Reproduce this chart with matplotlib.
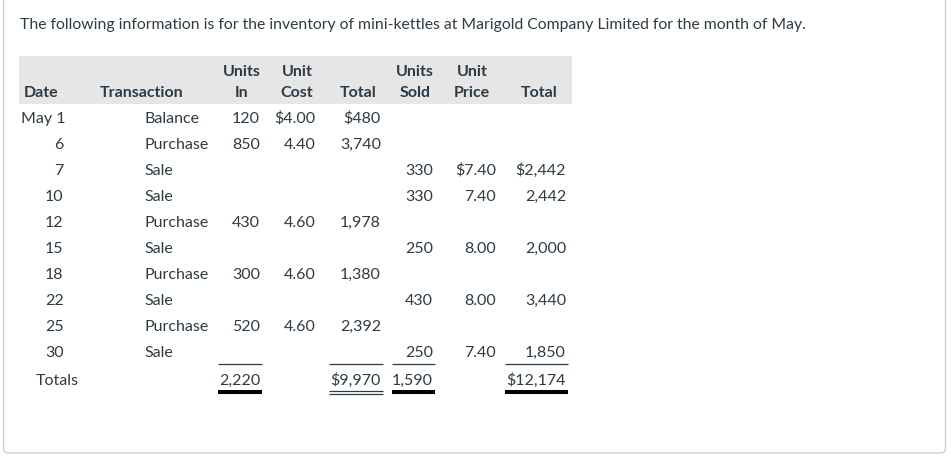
import matplotlib
matplotlib.use("Agg")
import matplotlib.pyplot as plt
from matplotlib.patches import Rectangle, FancyBboxPatch

# data for the table
title = ("The following information is for the inventory of mini-kettles "
         "at Marigold Company Limited for the month of May.")
dates = ['May 1', '6', '7', '10', '12', '15', '18', '22', '25', '30']
transactions = ['Balance', 'Purchase', 'Sale', 'Sale', 'Purchase',
                'Sale', 'Purchase', 'Sale', 'Purchase', 'Sale']
units_in = [120, 850, None, None, 430, None, 300, None, 520, None]
unit_cost = [4.00, 4.40, None, None, 4.60, None, 4.60, None, 4.60, None]
cost_total = [480, 3740, None, None, 1978, None, 1380, None, 2392, None]
units_sold = [None, None, 330, 330, None, 250, None, 430, None, 250]
unit_price = [None, None, 7.40, 7.40, None, 8.00, None, 8.00, None, 7.40]
sales_total = [None, None, 2442, 2442, None, 2000, None, 3440, None, 1850]
totals = {'units_in': 2220, 'cost_total': 9970,
          'units_sold': 1590, 'sales_total': 12174}

W, H = 951, 457
fig = plt.figure(figsize=(W / 100, H / 100), dpi=100)
ax = fig.add_axes([0, 0, 1, 1])
ax.set_xlim(0, W)
ax.set_ylim(H, 0)
ax.axis('off')

txt = '#2d3b45'
fs = 11.5
font = 'Lato'

# outer box (top edge runs off the picture)
ax.add_patch(FancyBboxPatch((3.5, -20), 942, 473, boxstyle='round,pad=0,rounding_size=5',
                            fc='white', ec='#cfcfcf', lw=1))

ax.text(20, 29.5, title, fontsize=11.3, family=font, color=txt, va='baseline')

# header band
ax.add_patch(Rectangle((19, 56), 553, 48, fc='#e6e6e6', ec='none'))
hdr = dict(fontsize=fs, family=font, color=txt, fontweight='bold', va='baseline')
ax.text(24, 97, 'Date', **hdr)
ax.text(142, 97, 'Transaction', ha='center', **hdr)
for cx, l1, l2 in [(241.5, 'Units', 'In'), (297, 'Unit', 'Cost'), (358, '', 'Total'),
                   (415, 'Units', 'Sold'), (472, 'Unit', 'Price'), (539, '', 'Total')]:
    if l1:
        ax.text(cx, 75.5, l1, ha='center', **hdr)
    ax.text(cx, 97, l2, ha='center', **hdr)


def money(v, dollar, dec):
    s = f'{v:,.2f}' if dec else f'{v:,.0f}'
    return ('$' + s) if dollar else s


body = dict(fontsize=fs, family=font, color=txt, va='baseline')
cols = [(units_in, 260, False), (unit_cost, 315.5, True), (cost_total, 381, False),
        (units_sold, 433, False), (unit_price, 496, True), (sales_total, 566, False)]
money_cols = [1, 2, 4, 5]
for i in range(len(dates)):
    y = 123 + 26 * i
    if i == 0:
        ax.text(21, y, dates[i], **body)
    else:
        ax.text(63.5, y, dates[i], ha='right', **body)
    ax.text(144, y, transactions[i], **body)
    for k, (vals, xr, dec) in enumerate(cols):
        v = vals[i]
        if v is None:
            continue
        first = next(j for j, vv in enumerate(vals) if vv is not None) == i
        ax.text(xr, y, money(v, first and k in money_cols, dec), ha='right', **body)

# totals row
yt = 385
ax.text(36, yt, 'Totals', **body)
tot_cols = [(totals['units_in'], 218, 262, 260, False, 'single'),
            (totals['cost_total'], 329, 383, 381, True, 'double'),
            (totals['units_sold'], 392, 435, 433, False, 'single'),
            (totals['sales_total'], 505, 568, 566, True, 'single')]
for v, x0, x1, xr, dollar, style in tot_cols:
    ax.text(xr, yt, money(v, dollar, False), ha='right', **body)
    ax.plot([x0, x1], [363.5, 363.5], color=txt, lw=0.9, solid_capstyle='butt')
    if style == 'double':
        ax.plot([x0, x1], [390.8, 390.8], color=txt, lw=0.9, solid_capstyle='butt')
        ax.plot([x0, x1], [394.3, 394.3], color=txt, lw=0.9, solid_capstyle='butt')
    else:
        ax.plot([x0, x1], [392.2, 392.2], color='black', lw=2.9, solid_capstyle='butt')

fig.savefig('out.png', dpi=100)
